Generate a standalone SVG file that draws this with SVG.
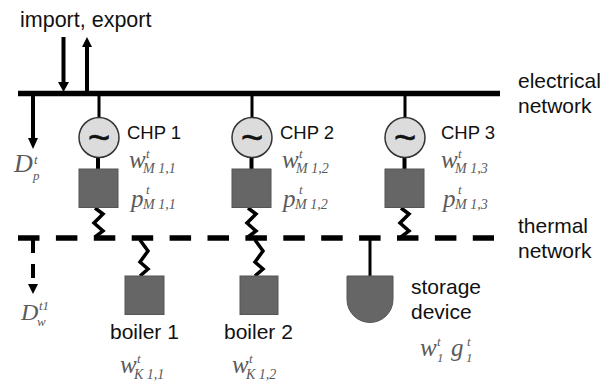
<svg xmlns="http://www.w3.org/2000/svg" width="614" height="385" viewBox="0 0 614 385">
<style>
.t{font-family:"Liberation Sans",Arial,sans-serif;font-size:21px;fill:#111}
.c{font-size:18.500px}
.m{font-family:"Liberation Serif","Times New Roman",serif;font-style:italic;fill:#5a5a5a;font-size:25px}
.s{font-size:13px}.sb{font-size:14px}
.box{fill:#666;stroke:#555;stroke-width:1}
.gen{fill:#dcdcdc;stroke:#333;stroke-width:1.5}
.til{font-family:"Liberation Sans",Arial,sans-serif;font-size:38px;fill:#111;stroke:#111;stroke-width:.6;text-anchor:middle}
.w{fill:none;stroke:#000;stroke-width:3}
.th{fill:none;stroke:#000;stroke-width:4}
.z{fill:none;stroke:#000;stroke-width:3.500;stroke-linejoin:miter}
.head{fill:#000}
</style>
<defs>
<g id="zig"><path class="z" d="M-4 0L4 6L-5 15L4 23L-4 29"/></g>
<g id="zigb"><path class="z" d="M-1 0L7 11L-1 22L7 29L-1 36"/></g>
</defs>
<g id="connectors">
<path d="M18 93.500H500" stroke="#000" stroke-width="5.500" fill="none"/>
<path d="M18 238H494" stroke="#000" stroke-width="5.500" fill="none" stroke-dasharray="21.500 16.400"/>
<path class="th" d="M33 94V140"/><path class="head" d="M28 138H38L33 149Z"/>
<path class="th" d="M63.500 37V84"/><path class="head" d="M58 82H69L63.500 92Z"/>
<path class="th" d="M87 46V92"/><path class="head" d="M82 47H92L87 37Z"/>
<path class="th" d="M33 238V253M33 264V278"/><path class="head" d="M28 284H38L33 294Z"/>
<path class="w" d="M99 95V118M252 95V118M405 95V118"/>
<path class="th" d="M98 157V170M251.500 157V170M404.500 157V170"/>
<path class="w" d="M370 238V276"/>
<use href="#zig" x="99" y="208"/><use href="#zig" x="252" y="208"/><use href="#zig" x="405" y="208"/>
<use href="#zigb" x="141" y="240"/><use href="#zigb" x="256" y="240"/>
</g>
<g id="chp1"><circle class="gen" cx="99" cy="137.500" r="20"/><text class="til" x="99" y="151">~</text><rect class="box" x="79" y="169" width="39" height="38.500"/><text class="t c" x="127" y="139">CHP 1</text></g>
<g id="chp2"><circle class="gen" cx="252" cy="137.500" r="20"/><text class="til" x="252" y="151">~</text><rect class="box" x="232" y="169" width="39" height="38.500"/><text class="t c" x="280" y="139">CHP 2</text></g>
<g id="chp3"><circle class="gen" cx="405" cy="137.500" r="20"/><text class="til" x="405" y="151">~</text><rect class="box" x="385" y="169" width="39" height="38.500"/><text class="t c" x="441" y="139">CHP 3</text></g>
<g id="boiler1"><rect class="box" x="125" y="276" width="39" height="38.500"/><text class="t" x="110" y="339">boiler 1</text></g>
<g id="boiler2"><rect class="box" x="240" y="276" width="38" height="38.500"/><text class="t" x="224" y="339">boiler 2</text></g>
<g id="storage"><path class="box" d="M347 276H393V299.500A23 23 0 0 1 347 299.500Z"/><text class="t" x="411" y="294">storage</text><text class="t" x="411" y="319">device</text></g>
<g id="labels">
<text class="t" x="20" y="27" style="font-size:21.500px">import, export</text>
<text class="t" x="518" y="88">electrical</text><text class="t" x="518" y="113">network</text>
<text class="t" x="518" y="233">thermal</text><text class="t" x="518" y="258">network</text>
<text class="m"><tspan x="14" y="172" font-size="26">D</tspan><tspan class="s" x="34" y="164">t</tspan><tspan class="s" x="33" y="180">p</tspan></text>
<text class="m"><tspan x="21" y="320" font-size="24">D</tspan><tspan class="s" x="39" y="310">t1</tspan><tspan class="s" x="37" y="326">w</tspan></text>
<text class="m"><tspan x="129" y="168">w</tspan><tspan class="s" x="146" y="158">t</tspan><tspan class="sb" x="143" y="173">M 1,1</tspan></text>
<text class="m"><tspan x="131" y="207">p</tspan><tspan class="s" x="146" y="194">t</tspan><tspan class="sb" x="143" y="209">M 1,1</tspan></text>
<text class="m"><tspan x="282" y="168">w</tspan><tspan class="s" x="299" y="158">t</tspan><tspan class="sb" x="296" y="173">M 1,2</tspan></text>
<text class="m"><tspan x="283" y="207">p</tspan><tspan class="s" x="299" y="194">t</tspan><tspan class="sb" x="295" y="209">M 1,2</tspan></text>
<text class="m"><tspan x="441" y="168">w</tspan><tspan class="s" x="458" y="158">t</tspan><tspan class="sb" x="455" y="173">M 1,3</tspan></text>
<text class="m"><tspan x="443" y="207">p</tspan><tspan class="s" x="458" y="194">t</tspan><tspan class="sb" x="455" y="209">M 1,3</tspan></text>
<text class="m"><tspan x="120" y="373">w</tspan><tspan class="s" x="137" y="363">t</tspan><tspan class="sb" x="134" y="379">K 1,1</tspan></text>
<text class="m"><tspan x="232" y="373">w</tspan><tspan class="s" x="249" y="363">t</tspan><tspan class="sb" x="246" y="379">K 1,2</tspan></text>
<text class="m"><tspan x="420" y="356">w</tspan><tspan class="s" x="437" y="346">t</tspan><tspan class="s" x="437" y="362">1</tspan></text>
<text class="m"><tspan x="451" y="356">g</tspan><tspan class="s" x="467" y="346">t</tspan><tspan class="s" x="466" y="362">1</tspan></text>
</g>
</svg>
